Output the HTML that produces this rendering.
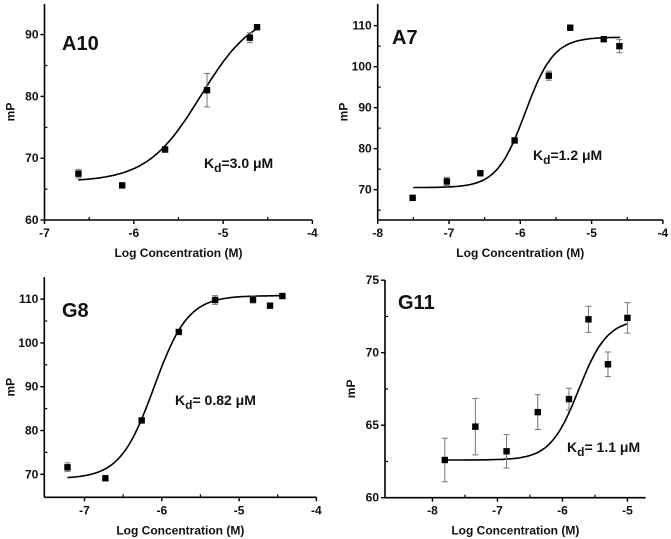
<!DOCTYPE html>
<html><head><meta charset="utf-8"><style>
html,body{margin:0;padding:0;background:#fff;width:671px;height:539px;overflow:hidden}
svg{display:block}
text{font-family:"Liberation Sans",Arial,sans-serif;font-weight:bold;fill:#111}
</style></head><body>
<svg id="s" width="671" height="539" xmlns="http://www.w3.org/2000/svg"></svg>
<script>
var S=document.getElementById('s'),out='';
function P(o){
  var X=function(v){return o.x0+(v-o.xa)*o.xs;}, Y=function(v){return o.y0-(v-o.ya)*o.ys;};
  var L=o.x0,B=o.y0,T=o.top,R=X(o.xmax);
  out+='<line x1="'+L+'" y1="'+T+'" x2="'+L+'" y2="'+B+'" stroke="#000" stroke-width="1.6"/>';
  out+='<line x1="'+L+'" y1="'+B+'" x2="'+R+'" y2="'+B+'" stroke="#000" stroke-width="1.6"/>';
  o.xt.forEach(function(v){var x=X(v);out+='<line x1="'+x+'" y1="'+B+'" x2="'+x+'" y2="'+(B+4)+'" stroke="#000" stroke-width="1.4"/>';
    out+='<text x="'+x+'" y="'+(B+17)+'" font-size="12" text-anchor="middle">'+v+'</text>';
    var m=X(v+0.5); if(v+0.5<o.xmax) out+='<line x1="'+m+'" y1="'+B+'" x2="'+m+'" y2="'+(B-3)+'" stroke="#000" stroke-width="1.2"/>';});
  o.yt.forEach(function(v){var y=Y(v);out+='<line x1="'+(L-4)+'" y1="'+y+'" x2="'+L+'" y2="'+y+'" stroke="#000" stroke-width="1.4"/>';
    out+='<text x="'+(L-6)+'" y="'+(y+4)+'" font-size="12" text-anchor="end">'+v+'</text>';});
  o.ym.forEach(function(v){var y=Y(v);out+='<line x1="'+L+'" y1="'+y+'" x2="'+(L+3)+'" y2="'+y+'" stroke="#000" stroke-width="1.2"/>';});
  var d='';for(var i=0;i<=120;i++){var x=o.c0+(o.c1-o.c0)*i/120;var y=o.top_+(o.bot-o.top_)/(1+Math.exp((x-o.xc)/o.dx));d+=(i?'L':'M')+X(x).toFixed(1)+' '+Y(y).toFixed(1);}
  out+='<path d="'+d+'" fill="none" stroke="#000" stroke-width="1.6"/>';
  o.pts.forEach(function(p){var x=X(p[0]),y=Y(p[1]);
    if(p[2]){var e=p[2]*o.ys;out+='<path d="M'+x+' '+(y-e)+'V'+(y+e)+'M'+(x-3)+' '+(y-e)+'H'+(x+3)+'M'+(x-3)+' '+(y+e)+'H'+(x+3)+'" stroke="#777" stroke-width="1" fill="none"/>';}
    out+='<rect x="'+(x-3.2)+'" y="'+(y-3.2)+'" width="6.4" height="6.4" fill="#000"/>';});
  out+='<text x="'+o.tx+'" y="'+o.ty+'" font-size="20">'+o.title+'</text>';
  out+='<text x="'+o.kx+'" y="'+o.ky+'" font-size="14">K<tspan font-size="12" dy="4">d</tspan><tspan dy="-4">'+o.kd+'</tspan></text>';
  out+='<text x="'+((L+R)/2)+'" y="'+(B+37)+'" font-size="12" text-anchor="middle">Log Concentration (M)</text>';
  out+='<text transform="translate('+(L-30)+','+((T+B)/2)+') rotate(-90)" font-size="12" text-anchor="middle">mP</text>';
}
P({x0:44.5,xa:-7,xs:89.3,y0:220,ya:60,ys:6.18,top:4,xmax:-4,xt:[-7,-6,-5,-4],yt:[60,70,80,90],ym:[65,75,85],
 c0:-6.62,c1:-4.62,bot:66.2,top_:94,xc:-5.25,dx:0.3,
 pts:[[-6.62,67.5,0.7],[-6.13,65.6],[-5.65,71.4],[-5.18,81,2.7],[-4.7,89.5,0.8],[-4.62,91.2]],
 title:'A10',tx:62,ty:50,kx:204,ky:168,kd:'=3.0 μM'});
P({x0:377.7,xa:-8,xs:71.3,y0:220,ya:62.6,ys:4.1,top:4,xmax:-4,xt:[-8,-7,-6,-5,-4],yt:[70,80,90,100,110],ym:[65,75,85,95,105],
 c0:-7.5,c1:-4.6,bot:70.5,top_:107.2,xc:-5.93,dx:0.2,
 pts:[[-7.51,68],[-7.03,72,1],[-6.56,74],[-6.08,82],[-5.6,97.8,1.1],[-5.3,109.5],[-4.83,106.7],[-4.61,105,1.6]],
 title:'A7',tx:392,ty:44,kx:533,ky:160,kd:'=1.2 μM'});
P({x0:44.3,xa:-7.52,xs:77.3,y0:497.3,ya:64.75,ys:4.38,top:277,xmax:-4,xt:[-7,-6,-5,-4],yt:[70,80,90,100,110],ym:[75,85,95,105],
 c0:-7.22,c1:-4.44,bot:69,top_:110.8,xc:-6.1,dx:0.22,
 pts:[[-7.22,71.6,1],[-6.73,69.1],[-6.26,82.3],[-5.78,102.5],[-5.31,109.8,1],[-4.82,109.9,0.8],[-4.6,108.5],[-4.44,110.7]],
 title:'G8',tx:62,ty:317,kx:175,ky:405,kd:'= 0.82 μM'});
P({x0:385,xa:-8.73,xs:65,y0:497.7,ya:60,ys:14.5,top:280,xmax:-4.72,xt:[-8,-7,-6,-5],yt:[60,65,70,75],ym:[62.5,67.5,72.5],
 c0:-7.8,c1:-5,bot:62.6,top_:72.3,xc:-5.75,dx:0.22,
 pts:[[-7.81,62.6,1.5],[-7.34,64.9,1.95],[-6.86,63.2,1.15],[-6.38,65.9,1.2],[-5.9,66.8,0.75],[-5.6,72.3,0.9],[-5.3,69.2,0.85],[-5.0,72.4,1.05]],
 title:'G11',tx:398,ty:309,kx:567,ky:452,kd:'= 1.1 μM'});
S.innerHTML=out;
</script>
</body></html>
